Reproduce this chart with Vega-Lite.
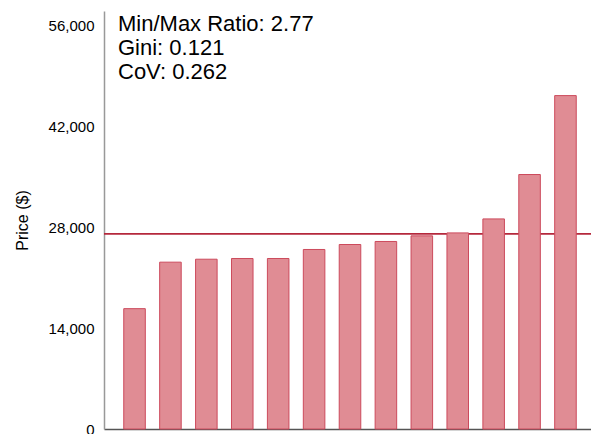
{
  "$schema": "https://vega.github.io/schema/vega-lite/v6.json",
  "autosize": {"type": "none"},
  "padding": {"left": 104, "top": 11, "right": 0, "bottom": 5},
  "width": 492,
  "height": 418,
  "background": "white",
  "title": {
    "text": ["Min/Max Ratio: 2.77", "Gini: 0.121", "CoV: 0.262"],
    "anchor": "start",
    "frame": "group",
    "orient": "top",
    "baseline": "top",
    "offset": -73,
    "dx": 14,
    "font": "Liberation Sans",
    "fontSize": 22,
    "fontWeight": "normal",
    "lineHeight": 24,
    "color": "#000000"
  },
  "data": {
    "values": [
      {"item": "A", "price": 16700},
      {"item": "B", "price": 23150},
      {"item": "C", "price": 23560},
      {"item": "D", "price": 23660},
      {"item": "E", "price": 23660},
      {"item": "F", "price": 24910},
      {"item": "G", "price": 25600},
      {"item": "H", "price": 26020},
      {"item": "I", "price": 26800},
      {"item": "J", "price": 27210},
      {"item": "K", "price": 29150},
      {"item": "L", "price": 35310},
      {"item": "M", "price": 46260}
    ]
  },
  "config": {
    "view": {"stroke": null},
    "font": "Liberation Sans"
  },
  "layer": [
    {
      "mark": {"type": "rule", "color": "#b5283c", "strokeWidth": 1.6},
      "encoding": {
        "y": {"aggregate": "mean", "field": "price", "type": "quantitative"}
      }
    },
    {
      "mark": {"type": "bar", "fill": "#e08c94", "stroke": "#cc4a5c", "strokeWidth": 1},
      "encoding": {
        "x": {
          "field": "item",
          "type": "nominal",
          "sort": null,
          "scale": {"paddingInner": 0.4, "paddingOuter": 0.55},
          "axis": {
            "labels": false,
            "ticks": false,
            "title": null,
            "domain": true,
            "domainColor": "#555555",
            "domainWidth": 1.5
          }
        },
        "y": {
          "field": "price",
          "type": "quantitative",
          "scale": {"domain": [0, 58000], "nice": false, "zero": true},
          "axis": {
            "values": [0, 14000, 28000, 42000, 56000],
            "format": ",d",
            "grid": false,
            "ticks": false,
            "domain": true,
            "domainColor": "#999999",
            "domainWidth": 1.5,
            "labelFontSize": 15,
            "labelColor": "#000000",
            "labelPadding": 10,
            "title": "Price ($)",
            "titleFontSize": 16,
            "titleFontWeight": "normal",
            "titleColor": "#000000",
            "titlePadding": 18
          }
        }
      }
    }
  ]
}
